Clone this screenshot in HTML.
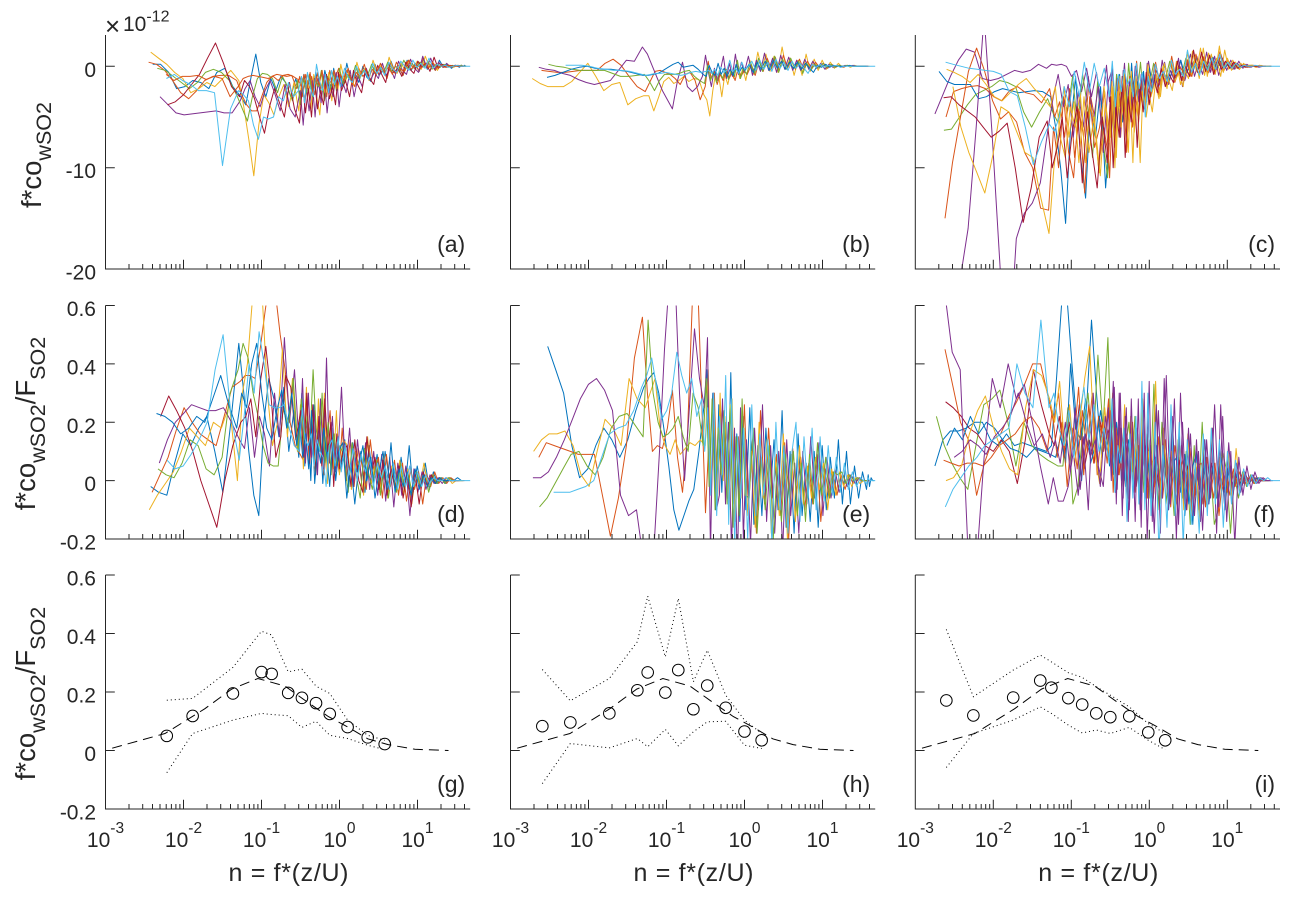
<!DOCTYPE html>
<html lang="en">
<head>
<meta charset="utf-8">
<title>Cospectra of SO2 flux</title>
<style>
html,body{margin:0;padding:0;background:#fff;}
svg{display:block;font-family:"Liberation Sans",Arial,sans-serif;}
text{fill:#262626;}
</style>
</head>
<body>
<svg id="chart" xmlns="http://www.w3.org/2000/svg" width="1296" height="900" viewBox="0 0 1296 900"></svg>
<script>
const gridN=[.0019,.0024,.003,.0038,.0048,.0061,.0077,.0098,.0124,.0157,.0199,.0252,.0319,.0404,.0512,.0593,.0687,.0797,.0923,.107,.124,.144,.167,.193,.224,.26,.301,.329,.359,.392,.429,.468,.512,.559,.611,.667,.729,.796,.87,.95,1.04,1.17,1.32,1.48,1.67,1.88,2.12,2.39,2.69,3.03,3.41,3.84,4.32,4.87,5.48,6.17,6.95,7.83,8.81,9.92,11.2,12.6,14.2,16,18,20.3,22.8,25.7,29,32.6,36.7,38.5,40,42,44,46,48];

// Panel (a): units of 1e-13
const a1=[2,2,-6,-22,-20,-14,-16,-22,-6,-2,-20,-30,-38,-12,12,-16,-30,-12,-24,-10,-16,-30,-12,-32,-8,-24,-12,-30,-6,-20,-26,-4,-16,-24,-2,-18,-8,-20,3,-14,-6,-16,0,-11,-15,2,-9,-4,-11,5,-6,-2,-9,6,-4,3,-5,7,-3,2,-4,6,-1,2,-2,1,-1,1,0,1,0];
const a2=[4,2,-4,-14,-26,-32,-24,-14,-10,-9,-9,-14,-28,-38,-44,-44,-30,-16,-10,-8,-9,-10,-9,-22,-10,-30,-8,-24,-10,-28,-6,-22,-12,-30,-4,-20,-10,-2,-16,-4,-12,-20,-2,-10,-5,-14,1,-8,-3,-12,4,-7,-1,-9,5,-3,2,-5,8,-2,1,-4,3,-1,1,-1,1,0,0,0,0];
const a3=[14,8,2,-6,-12,-26,-22,-16,-20,-12,-4,-14,-40,-72,-108,-58,-28,-36,-48,-30,-18,-40,-16,-44,-12,-36,-14,-42,-8,-30,-48,-10,-26,-6,-34,-12,-24,2,-16,-6,-20,4,-10,-2,-14,6,-6,1,-9,9,-3,-7,3,-4,6,-2,5,-3,10,-1,3,-4,2,-1,1,-1,1,0,0,0,0];
const a4=[-30,-38,-46,-48,-47,-46,-45,-44,-46,-46,-34,-22,-14,-30,-40,-24,-14,-28,-44,-18,-42,-50,-24,-58,-20,-44,-14,-50,-12,-36,-8,-46,-18,-30,-6,-40,-14,-26,-4,-30,-10,-20,-2,-14,-6,-12,3,-9,-2,-12,5,-4,-8,7,-2,-6,10,-1,8,-3,4,-1,3,-1,1,0,1,0,0];
const a5=[-2,-4,-10,-16,-22,-16,-6,-3,-6,-14,-30,-42,-54,-30,-12,-7,-8,-12,-26,-10,-20,-34,-14,-38,-12,-26,-8,-30,-14,-20,-4,-34,-10,-22,-6,-24,-2,-18,-8,-14,1,-12,-4,-9,2,-8,-1,-6,4,-5,0,-4,6,-2,3,-2,4,-1,5,-3,2,-1,2,-1,1,0,1,0,0];
const a6=[-38,-35,-28,-18,-8,8,23,3,-20,-30,-14,-20,-32,-50,-66,-40,-22,-36,-50,-16,-42,-56,-18,-46,-22,-50,-12,-42,-24,-38,-8,-32,-20,-38,-6,-24,-14,-30,-4,-18,-26,-2,-12,-18,1,-8,-16,3,-6,-2,-10,4,-3,-7,5,-1,3,-5,9,-2,2,-1,1,0,1,0,0];
const a7=[-8,-14,-10,-10,-9,-13,-10,-12,-30,-20,-12,-10,-9,-10,-11,-12,-10,-14,-9,-8,-10,-13,-20,-8,-22,-6,-28,-10,-18,-4,-26,-12,-16,-4,-22,-8,-14,-2,-18,-6,-10,2,-12,-3,-8,3,-6,-1,-8,4,-3,-5,6,-1,2,-2,3,-1,4,-2,1,-1,1,0,0,0];
const a8=[-12,-8,-14,-18,-24,-24,-26,-98,-42,-24,-28,-34,-58,-72,-50,-52,-50,-30,-34,-16,-30,-24,-10,-36,-6,-22,-30,2,-14,-24,-8,-26,-4,-18,-10,-20,-2,-12,-16,0,-10,-4,-13,3,-7,-1,-9,4,-3,-6,5,0,-4,6,-1,3,-2,8,-2,2,0,1,-1,0,1,0,0,0,0,0,0,0];
const seriesA=[a1,a2,a3,a4,a5,a6,a7,a8];
const startsA=[3,3,3,4,4,5,5,5];
const shiftsA=[1.06,.94,1,1.04,.96,1.02,.98,.99];
const colorsA=[0,1,2,3,4,6,1,5];

// Panel (b): units of 1e-13
const b1=[-12,-17,-20,-20,-20,-15,-6,3,-10,-24,-18,-16,-38,-32,-29,-29,-44,-30,-15,-11,-17,-14,-10,-15,-12,-13,-28,-33,-49,-24,-6,-10,-30,-8,-18,-4,-12,3,-12,-2,-14,6,-8,14,-3,12,-5,10,-6,19,-2,8,-9,6,-9,12,-5,7,-4,6,-3,4,-2,3,-1,1,-1,1,0,0,0,0,0];
const b2=[-4,-5,-6,-6,-5,-4,-4,-4,3,7,1,-10,-20,-25,-15,-5,-4,-6,-8,-12,-18,-8,-6,-14,-33,-20,5,-12,-4,-18,-8,-14,-3,-12,-6,-14,-2,-10,-4,-8,1,-9,5,-5,8,-3,9,-4,11,-2,6,-3,7,-3,5,-2,4,-1,3,-2,2,-1,1,-1,1,0,0,0,0,0,0];
const b3=[-1,-3,-4,-7,-9,-13,-16,-18,-16,-14,-4,6,5,19,12,0,-12,-24,-33,-42,-14,4,-20,-25,-20,-10,11,-6,-20,-2,-14,-4,10,-12,3,-10,12,-8,4,-6,10,-9,6,-5,13,-4,8,-6,11,-3,9,-4,6,-4,7,-3,5,-2,3,-3,2,-1,1,-1,1,0,1,0,0,0,0];
const b4=[2,0,-1,-3,-4,-4,-4,-4,-7,-10,-10,-9,-8,-15,-24,-14,-8,-8,-8,-7,-5,-4,-10,-14,-17,1,-14,-6,-16,-4,-12,-3,-13,-5,-10,6,-12,-2,-8,4,-7,8,-5,6,-3,10,-6,7,-3,8,-2,5,-7,3,-4,2,-2,3,-1,2,-1,1,0,1,0,0,0,0,0];
const b5=[-11,-9,-6,-3,-1,0,-2,-3,-3,-4,-5,-7,-9,-9,-8,-7,-4,-1,2,4,-1,0,1,-3,-8,-10,1,-6,-9,3,-8,-2,-10,-3,-9,2,-6,-1,-4,2,-6,4,-3,5,-4,6,-2,5,-3,4,-2,4,-3,3,-2,-6,1,-1,2,-1,1,0,0,0,1,0,0,0,0];
const b6=[1,1,1,0,-2,-3,-4,-4,-5,-7,-9,-8,-7,-7,-6,-7,-8,-9,-8,-6,-5,-6,-5,-4,-7,-3,-9,-1,-6,-4,6,-5,-2,-7,4,-3,-1,5,-4,6,-3,4,-5,7,-2,4,-4,5,-2,3,-2,-7,2,-1,2,-1,1,0,1,-1,0,0,0,0,0,0,0,0,0,0,0,0,0];
const seriesB=[b1,b2,b3,b4,b5,b6];
const startsB=[0,1,1,2,2,4];
const shiftsB=[1,1.04,.96,1.02,.98,1.06];
const colorsB=[2,1,3,4,0,5];

// Panel (c): units of 1e-13
const c1=[-210,-160,-60,50,-70,-200,-300,-170,-145,-135,-115,-60,-30,-8,-40,-18,-70,-25,-60,-10,-55,-20,-85,-15,-6,-60,-12,-70,-4,-52,-15,-40,0,-35,-8,-42,3,-30,-8,-22,6,-18,-4,-14,8,-20,-2,12,-10,4,-8,14,-6,10,-9,8,-4,6,-3,5,-2,2,-1,1,-1,0,0,0];
const c2=[-47,-28,-10,6,17,14,-12,-14,-12,-8,-4,-6,-4,2,-2,2,1,2,0,-10,-4,-25,-2,-30,-6,-40,1,-35,-2,-50,-12,-30,3,-45,-10,-25,2,-38,-8,-22,5,-20,-4,-15,4,-18,-2,-10,6,-14,0,-6,10,-4,8,-6,5,-3,12,-2,4,-3,3,-1,2,-1,1,0,0,0];
const c3=[-150,-95,-50,-5,18,-4,-34,-52,-45,-55,-85,-100,-140,-142,-60,-100,-30,-85,-110,-42,-70,-20,-45,-100,-60,-90,-30,-80,-15,-70,-25,-85,-10,-60,-30,-55,-8,-40,-20,-30,2,-28,-8,-20,4,-16,-4,-14,7,-10,3,-8,10,-6,5,-8,8,-5,6,-2,4,-3,2,-1,1,0,1,0,0,0];
const c4=[-20,-60,-85,-105,-125,-87,-40,-45,-65,-85,-90,-130,-165,-100,-60,-20,-70,-35,-95,-30,-85,-50,-105,-20,-75,-15,-100,-25,-60,-5,-70,-20,-95,-10,-50,-25,-40,2,-30,-15,-32,0,-22,6,-14,-6,-20,14,-8,10,-12,18,-10,12,-7,20,-6,8,-4,4,-3,3,-1,1,-1,1,0,0,0];
const c5=[-63,-62,-50,-38,-28,-24,-20,-14,-16,-20,-45,-60,-45,-32,-45,-55,-30,-44,-10,-60,-8,-40,-90,-15,-70,-110,-30,-65,-8,-40,-14,-50,3,-30,-12,-25,4,-32,-8,-18,3,-15,-3,-12,5,-9,-2,-8,8,-6,5,-4,7,-5,4,-3,6,-2,3,-1,2,-2,1,0,1,0,0,0,0];
const c6=[-31,-30,-38,-44,-50,-60,-70,-64,-56,-100,-154,-120,-70,-54,-100,-80,-50,-110,-65,-40,-115,-45,-85,-120,-50,-95,-30,-100,-40,-70,-10,-90,-30,-55,-15,-80,-20,-45,-6,-38,-8,-26,-2,-20,-8,-16,5,-14,0,-10,16,-6,14,-5,11,-8,6,-3,5,-2,4,-2,1,-1,0,0,0,0,0];
const c7=[-5,-15,-18,-18,-18,-32,-30,-25,-22,-24,-26,-25,-24,-25,-30,-60,-100,-155,-60,-10,-90,-130,-35,-70,-20,-120,-55,-35,-60,-8,-55,-25,-45,3,-40,-15,-30,-5,-35,-2,-22,-10,-20,2,-15,-3,-10,6,-9,-2,-6,8,-5,6,-4,9,-3,5,-2,4,-2,2,-1,1,0,1,0,0,0,0,0];
const c8=[-50,-25,-22,-20,-19,-22,-30,-34,-24,-20,-26,-28,-36,-22,-50,-35,-70,-22,-90,-45,-125,-30,-80,-60,-25,-110,-35,-75,-18,-50,-8,-65,-22,-45,5,-30,-12,-40,-4,-24,4,-18,-6,-14,10,-12,0,-7,6,-10,12,-3,9,-7,6,-2,15,-4,6,-3,3,-1,2,-1,1,-1,0,0,0];
const c9=[-3,-6,-10,-16,-8,-18,-30,-34,-26,-18,-12,-22,-30,-40,-20,-70,-90,-40,-60,-25,-95,-38,-60,-108,-35,-70,-20,-90,-10,-45,-25,-85,-5,-65,-35,-95,-15,-50,-28,-45,-8,-30,3,-12,-24,5,-18,-3,-12,15,-5,18,-9,13,-4,8,-10,16,-3,6,-2,3,-1,1,1,0,1,0,0];
const c10=[4,2,0,-2,-3,-4,-5,-8,-25,-29,-60,-97,-75,-57,-64,-50,-20,-40,-5,-30,4,-25,3,-20,-2,-30,5,-40,-8,-25,-3,-18,-12,-30,3,-22,-6,-50,-10,-25,2,-12,-5,-15,6,-8,-3,-10,16,-6,3,-9,5,-4,8,-3,12,-2,4,-2,3,-1,1,0,0,1,0,0,0,0,0,0,0,0,0,0];
const seriesC=[c2,c7,c5,c3,c8,c1,c4,c9,c6,c10];
const startsC=[0,0,1,1,1,3,2,1,1,1];
const shiftsC=[.94,1.06,.97,1,1.03,.99,1.01,1.05,.96,1.02];
const colorsC=[3,0,4,1,1,3,2,2,6,5];

// Panel (d): units of 0.01
const d1=[-2,-4,-5,6,16,12,18,22,10,-4,20,47,30,10,-5,-12,20,35,28,15,32,10,24,8,30,5,22,0,26,8,20,-1,15,6,18,2,12,4,14,-2,13,3,10,-4,12,0,9,-3,10,1,6,-3,8,-2,12,-4,5,-2,6,-3,3,-1,1,-1,1,0,1,0,0];
const d2=[-4,2,8,17,25,20,16,14,12,22,32,34,36,36,35,45,58,70,65,50,38,20,12,9,7,30,6,22,4,18,26,2,14,24,5,10,3,18,0,14,-2,11,5,-3,14,2,8,-6,9,-2,7,-5,6,-7,4,-3,3,-8,2,-2,3,-1,1,-1,1,0,0,0,0,0];
const d3=[-10,-5,-1,3,10,18,15,12,20,18,26,0,30,40,62,70,62,30,12,20,45,15,35,10,26,4,32,12,24,2,28,6,30,-1,18,4,24,2,14,12,-3,10,4,-5,15,-1,7,-4,9,-6,5,-3,7,-5,4,-8,3,-2,6,-2,2,-1,1,0,1,-1,0,0,0];
const d4=[6,14,20,23,26,25,24,24,25,20,14,11,25,8,22,16,5,30,15,49,20,38,10,35,6,30,8,24,2,28,4,42,6,22,3,12,32,2,18,-2,14,0,13,-3,10,-5,9,-7,8,-9,6,-5,5,-12,4,-4,3,-3,2,-1,1,-1,1,0,0,0];
const d5=[4,2,1,6,14,12,4,2,8,30,38,47,42,30,22,12,6,5,5,25,18,35,10,28,12,22,15,38,18,10,30,6,20,2,16,5,12,8,-4,13,2,-6,11,3,-3,7,-5,5,-6,4,-4,6,-3,2,-5,3,-2,2,-4,2,-1,1,-1,1,0,0,0];
const d6=[22,29,24,18,10,0,-8,-16,0,12,20,22,28,15,35,46,30,8,15,36,32,14,24,8,30,6,26,2,22,5,28,10,20,-2,16,4,10,12,-2,14,0,-4,15,2,8,-3,7,-5,4,-3,5,-6,3,-9,2,-8,3,-2,2,-1,1,0,0,0,0,0];
const d7=[23,22,20,16,18,22,20,28,36,26,18,30,25,40,47,30,18,14,24,31,18,30,12,20,8,16,4,24,-1,12,6,18,9,-2,14,0,10,13,-6,6,-8,5,12,0,8,-6,3,10,-3,13,-4,4,-2,3,-5,4,-3,2,-2,1,-1,1,0,0,0,0];
const d8=[7,4,5,9,14,20,38,50,22,7,22,40,30,51,40,26,25,25,26,18,12,10,25,14,12,16,5,14,10,8,-2,12,14,5,15,3,12,2,11,0,9,3,8,-2,6,1,5,-3,6,-3,5,-2,5,-2,3,-2,2,-1,1,0,0,1,0,0,0,0,0,0,0,0,0,0];
const seriesD=[d1,d2,d3,d4,d5,d6,d7,d8];
const startsD=[3,3,3,4,4,4,4,5];
const shiftsD=[1,1.04,.96,1.02,.98,1.06,.94,1.01];
const colorsD=[0,1,2,3,4,6,0,5];

// Panel (e): units of 0.01
const e1=[46,38,30,12,1,4,12,18,14,8,14,24,32,35,37,30,18,5,-10,-17,-12,-7,-3,10,25,38,5,30,-10,26,-4,20,-6,37,-8,16,-14,22,-10,25,-15,12,-12,18,-6,14,-10,24,-16,10,-18,16,-12,6,-14,10,-16,12,-10,8,-6,14,-8,10,-8,5,-6,3,-3,2,-2,1,0,0];
const e2=[8,13,12,11,10,9,9,9,-5,-19,-6,12,42,56,30,10,12,11,18,31,8,-4,15,62,70,20,-11,10,-4,30,-8,25,2,18,-6,20,-14,15,-3,26,-10,14,-18,24,-8,18,-6,9,-12,13,-20,11,-4,8,-10,6,-8,9,-14,4,-6,3,-5,2,-3,2,-1,1,0,0,0,0];
const e3=[10,14,16,16,17,12,2,-2,10,21,18,12,35,28,25,30,35,18,12,9,14,9,11,13,12,14,12,38,-4,24,-8,30,0,22,-10,28,-14,12,-6,18,-12,10,-16,20,-6,14,-18,8,-12,16,-20,9,-14,12,-8,5,-6,8,-3,6,-10,4,-5,3,-2,2,-2,1,-1,0,0,0];
const e4=[1,1,3,8,14,21,28,33,35,31,24,-5,-12,-10,-30,-28,-20,10,45,70,75,30,0,25,52,35,25,49,-25,30,-10,-5,28,-8,20,-24,18,-30,25,-20,14,-22,18,-10,26,-14,12,-18,10,-24,14,-12,6,-18,10,-8,15,-6,13,-12,8,-6,4,-4,2,-2,2,-1,1,0,0,0,0];
const e5=[-9,-6,-1,4,9,10,5,2,8,18,22,23,19,15,55,30,20,15,16,18,22,15,10,30,25,12,35,-2,28,-10,18,2,24,-8,26,-16,15,-12,28,-5,-6,18,-18,8,-10,12,-20,6,-14,9,-6,10,-12,6,-14,9,-8,13,-5,8,-6,3,2,3,-1,2,0,1,0,0,0];
const e6=[-4,-4,-4,-3,-2,0,8,16,18,19,24,32,36,42,32,21,24,30,44,36,30,35,22,28,10,25,-5,30,-12,22,2,36,-15,28,-22,15,-6,18,-20,26,-12,16,-5,14,-22,20,-10,12,-18,10,20,-14,15,-6,18,-10,15,-7,12,-5,8,-4,6,-3,3,-2,1,-1,1,0,0,0,0,0];
const seriesE=[e1,e2,e3,e4,e5,e6];
const startsE=[2,1,0,0,1,3];
const shiftsE=[1,.96,1.04,1.02,.98,.94];
const colorsE=[0,1,2,3,4,5];

// Panel (f): units of 0.01
const f1=[5,14,17,17,18,20,20,14,12,16,12,13,12,11,10,12,35,60,65,42,20,0,25,55,30,8,20,5,25,-4,18,0,16,-6,20,-2,12,-8,14,-3,8,-10,10,-5,12,-6,18,-8,9,-12,8,-15,10,-4,14,-6,5,-3,8,-10,6,-4,2,-3,2,-1,1,0,0,0];
const f2=[45,33,20,14,-5,6,14,16,22,27,33,40,40,28,20,30,8,25,12,32,2,26,6,22,10,28,2,24,6,18,-2,16,8,20,-4,12,5,14,-6,10,-2,15,-6,8,-9,12,2,7,-10,11,-5,6,-8,8,-4,6,-12,3,-4,5,-2,3,-1,1,0,1,0,0,0];
const f3=[0,1,5,16,24,29,18,10,4,2,25,38,36,28,20,34,12,26,5,20,35,46,10,-1,25,8,30,-3,18,4,26,-6,22,0,14,-8,28,2,10,-4,34,-8,18,-4,10,-6,12,-10,16,-12,6,-14,10,-8,18,-6,8,-2,10,-7,11,-3,3,-1,1,0,1,0,0];
const f4=[65,44,38,-25,-30,8,35,25,40,28,33,20,5,-8,1,-7,-7,-2,10,-5,15,-10,30,5,-2,25,0,32,-3,30,-6,25,-10,18,-14,28,-16,30,-20,12,-18,24,-6,36,-8,28,-15,20,-10,16,-12,10,-17,14,-6,26,-9,22,-14,10,-22,8,-5,5,-3,3,-1,1,0,0,0];
const f5=[22,12,6,1,-3,12,26,28,31,20,5,20,12,9,7,6,5,5,25,-8,-2,18,30,10,43,18,49,15,25,2,18,-2,12,20,3,22,0,14,-4,16,-6,33,-10,20,-8,8,-12,14,-6,10,-15,12,-10,20,-8,6,-15,-10,10,4,-18,2,-6,3,-2,2,-1,1,0,0,0];
const f6=[27,25,22,18,16,12,10,14,10,-1,14,38,26,16,12,22,8,20,10,26,4,14,6,22,12,18,6,16,2,18,0,12,8,14,-2,10,4,12,-3,6,8,-4,10,-2,9,-6,7,0,5,-8,6,-3,4,-2,6,-4,3,-3,4,-2,2,-1,1,0,1,0,0,0];
const f7=[7,6,5,6,6,5,8,12,14,16,20,22,18,10,24,8,20,-2,18,4,24,10,30,2,20,6,24,-4,18,2,12,16,-6,10,4,18,-6,12,-2,14,-6,8,-4,14,0,6,-10,12,-3,7,-8,5,6,-9,4,-6,5,-4,3,-5,4,-2,2,-1,1,-1,0,0,0];
const f8=[8,10,14,12,9,15,18,22,30,20,12,16,8,14,6,20,3,25,-3,16,8,14,-2,22,10,34,-8,30,-12,22,-14,28,-4,10,-10,24,-6,34,-14,26,-18,35,-10,22,-20,30,-8,18,-12,14,-14,14,-8,18,-18,26,-10,13,-6,6,-4,3,-1,2,-1,1,0,0,0];
const f9=[12,18,14,22,16,20,18,14,11,10,8,11,10,9,8,15,6,40,18,14,28,6,12,24,10,20,2,20,6,12,-2,14,10,4,16,-8,12,0,8,-6,12,-6,9,-10,6,8,-4,9,-8,5,10,-12,8,-8,5,-6,8,-4,6,-3,3,-2,1,0,0,1,0,0,0];
const f10=[-9,-3,1,5,8,12,14,16,18,40,30,25,55,25,30,18,12,24,8,22,32,14,26,10,18,6,28,-4,12,6,18,-14,16,-6,22,-8,34,-10,30,-12,20,-25,12,-16,26,-12,20,-22,14,-15,6,-18,16,-12,18,-8,14,-16,10,-8,7,-5,4,-2,2,-1,1,0,1,0,0,0,0,0,0,0];
const seriesF=[f1,f5,f6,f2,f9,f7,f3,f4,f8,f10];
const startsF=[0,0,1,1,1,1,1,1,2,1];
const shiftsF=[.94,.98,1.02,1,1.06,.96,1.03,.99,1.05,1.01];
const colorsF=[0,4,6,1,0,1,2,3,3,5];

// Bottom row: mean circles, dotted bounds and dashed reference curve
const referenceN=[.00122,.00194,.0058,.0188,.0415,.09,.2,.39,.72,1.28,2.3,4.2,9.3,25];
const referenceY=[.008,.023,.058,.143,.21,.246,.22,.165,.116,.08,.04,.02,.004,0];
const nG=[.0061,.0131,.043,.1,.135,.22,.33,.5,.75,1.27,2.3,3.8];
const meanG=[.05,.118,.195,.268,.262,.197,.18,.162,.125,.08,.045,.022];
const upperG=[.172,.178,.284,.408,.395,.269,.278,.22,.195,.104,.052,.035];
const lowerG=[-.076,.058,.104,.127,.123,.119,.079,.1,.052,.041,.018,.003];
const nH=[.00256,.00585,.0185,.0423,.0574,.0966,.1416,.221,.333,.574,1,1.66];
const meanH=[.083,.096,.127,.206,.267,.198,.275,.141,.222,.146,.065,.035];
const upperH=[.277,.17,.246,.372,.528,.32,.52,.235,.343,.189,.104,.058];
const lowerH=[-.113,.024,.009,.041,.0125,.072,.016,.064,.098,.1,.018,.007];
const nI=[.0025,.00555,.018,.04,.0555,.0916,.138,.209,.316,.554,.97,1.6];
const meanI=[.171,.12,.181,.239,.215,.179,.157,.127,.114,.117,.062,.035];
const upperI=[.414,.184,.275,.326,.303,.266,.25,.218,.189,.149,.092,.058];
const lowerI=[-.058,.058,.104,.149,.127,.087,.06,.07,.058,.079,.035,.003];

// Tick labels
const xDecades=[-3,-2,-1,0,1];
const xMinorFactors=[2,3,4,5,6,7,8,9];
const yTicksTop=[-20,-10,0];
const yTicksRatio=[-0.2,0,0.2,0.4,0.6];
const panelLetters=['(a)','(b)','(c)','(d)','(e)','(f)','(g)','(h)','(i)'];

const palette=['#0072BD','#D95319','#EDB120','#7E2F8E','#77AC30','#4DBEEE','#A2142F'];
const colLeft=[105.5,510.5,915.3];
const rowBox=[[35,269],[305.5,539],[575,809]];
const axisWidth=364.7, decadePx=78;
const svg=document.getElementById('chart');
const NS='http://www.w3.org/2000/svg';
function mk(tag,attrs,parent){
  const e=document.createElementNS(NS,tag);
  for(const k in attrs)e.setAttribute(k,attrs[k]);
  parent.appendChild(e);
  return e;
}
function xScale(col,n){return colLeft[col]+decadePx*(3+Math.log10(n));}
function yScale(row,v){
  const b=rowBox[row];
  if(row===0)return b[1]-(v+20)*10.135;
  return b[1]-(v+0.2)*(b[1]-b[0])/0.8;
}
function linePath(xs,ys){
  return xs.map((x,i)=>(i?'L':'M')+x.toFixed(1)+' '+ys[i].toFixed(1)).join('');
}

const defs=mk('defs',{},svg);
for(let r=0;r<3;r++)for(let c=0;c<3;c++){
  const cp=mk('clipPath',{id:'clip-'+r+'-'+c},defs);
  mk('rect',{x:colLeft[c],y:rowBox[r][0],width:axisWidth,height:rowBox[r][1]-rowBox[r][0]},cp);
}

function drawSpectra(row,col,seriesList,starts,shifts,colors,unit){
  const g=mk('g',{'clip-path':'url(#clip-'+row+'-'+col+')',fill:'none','stroke-width':1,'stroke-linejoin':'round'},svg);
  
  
  seriesList.forEach((vals,s)=>{
    const xs=[],ys=[];
    vals.forEach((v,i)=>{
      const k=starts[s]+i;
      if(k>=gridN.length)return;
      xs.push(xScale(col,gridN[k]*(k<70?shifts[s]:1)));
      ys.push(yScale(row,v*unit));
    });
    const p=mk('path',{d:linePath(xs,ys),stroke:palette[colors[s]]},g);
    
    
  });
}
function drawSummary(row,col,nVals,mean,upper,lower){
  const g=mk('g',{fill:'none',stroke:'#000','stroke-width':1},svg);
  
  
  const ref=mk('path',{d:linePath(referenceN.map(n=>xScale(col,n)),referenceY.map(v=>yScale(row,v))),'stroke-dasharray':'10 6'},g);
  
  
  [upper,lower].forEach(b=>{
    const d=mk('path',{d:linePath(nVals.map(n=>xScale(col,n)),b.map(v=>yScale(row,v))),'stroke-dasharray':'1 3'},g);
    
    
  });
  mean.forEach((v,i)=>{
    const c=mk('circle',{cx:xScale(col,nVals[i]),cy:yScale(row,v),r:5.8},g);
    
    
  });
}
drawSpectra(0,0,seriesA,startsA,shiftsA,colorsA,.1);
drawSpectra(0,1,seriesB,startsB,shiftsB,colorsB,.1);
drawSpectra(0,2,seriesC,startsC,shiftsC,colorsC,.1);
drawSpectra(1,0,seriesD,startsD,shiftsD,colorsD,.01);
drawSpectra(1,1,seriesE,startsE,shiftsE,colorsE,.01);
drawSpectra(1,2,seriesF,startsF,shiftsF,colorsF,.01);
drawSummary(2,0,nG,meanG,upperG,lowerG);
drawSummary(2,1,nH,meanH,upperH,lowerH);
drawSummary(2,2,nI,meanI,upperI,lowerI);

const axisColor='#262626';
for(let r=0;r<3;r++)for(let c=0;c<3;c++){
  const x0=colLeft[c],x1=x0+axisWidth,top=rowBox[r][0],bot=rowBox[r][1];
  const ax=mk('g',{stroke:axisColor,'stroke-width':1,fill:'none'},svg);
  
  
  const frame=mk('path',{d:'M'+x0+' '+top+'V'+bot+'H'+x1},ax);
  
  
  let dt='';
  xDecades.concat([2]).forEach(e=>{
    const base=Math.pow(10,e);
    if(e<2&&e>-3)dt+='M'+xScale(c,base).toFixed(1)+' '+bot+'v-9.3';
    xMinorFactors.forEach(m=>{
      const x=xScale(c,base*m);
      if(x<=x1&&e<2)dt+='M'+x.toFixed(1)+' '+bot+'v-5';
    });
  });
  const xt=mk('path',{d:dt},ax);
  
  
  const yVals=r===0?yTicksTop:yTicksRatio;
  let dy='';
  yVals.forEach(v=>{dy+='M'+x0+' '+yScale(r,v).toFixed(1)+'h9.3';});
  const yt=mk('path',{d:dy},ax);
  
  
  if(c===0){
    yVals.forEach(v=>{
      const t=mk('text',{x:96,y:yScale(r,v)+10.5,'text-anchor':'end','font-size':21},svg);
      t.textContent=String(v);
      
      
    });
  }
  if(r===2){
    xDecades.forEach(e=>{
      const t=mk('text',{x:xScale(c,Math.pow(10,e)),y:847,'text-anchor':'middle','font-size':21},svg);
      t.textContent='10';
      
      
      const sup=mk('tspan',{dy:-14,'font-size':15.5},t);
      sup.textContent=String(e);
    });
    const xl=mk('text',{x:x0+183,y:881,'text-anchor':'middle','font-size':25,textLength:120,lengthAdjust:'spacing'},svg);
    xl.textContent='n = f*(z/U)';
    
    
  }
  const lab=mk('text',{x:x1-5,y:bot-17,'text-anchor':'end','font-size':23},svg);
  lab.textContent=panelLetters[r*3+c];
  
  
}

function yTitle(x,cy,parts){
  const t=mk('text',{transform:'translate('+x+' '+cy+') rotate(-90)','text-anchor':'middle','font-size':27.5},svg);
  
  
  let shifted=false;
  parts.forEach(p=>{
    const s=mk('tspan',{dy:p[1]?(shifted?0:10):(shifted?-10:0),'font-size':p[1]?21.5:27.5},t);
    shifted=p[1];
    s.textContent=p[0];
  });
}
yTitle(41,155,[['f*co',0],['wSO2',1]]);
yTitle(35,423.5,[['f*co',0],['wSO2',1],['/F',0],['SO2',1]]);
yTitle(35,693.5,[['f*co',0],['wSO2',1],['/F',0],['SO2',1]]);

const mult=mk('text',{x:105,y:35,'font-size':26},svg);


mult.textContent='\u00D7';
const multBase=mk('tspan',{dx:2.8,dy:-4,'font-size':21},mult);
multBase.textContent='10';
const multExp=mk('tspan',{dy:-9.5,'font-size':16},mult);
multExp.textContent='-12';
</script>
</body>
</html>
